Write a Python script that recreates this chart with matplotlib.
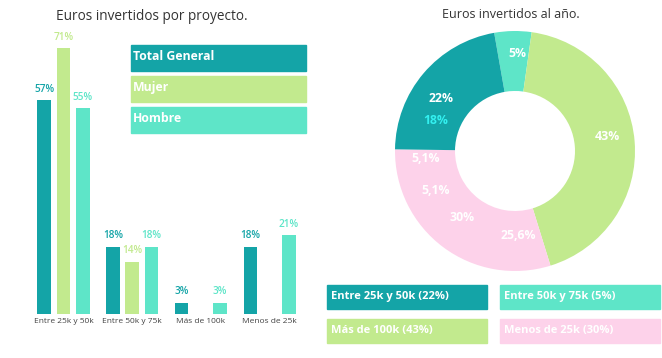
import numpy as np
import matplotlib
matplotlib.use('Agg')
import matplotlib.pyplot as plt
from matplotlib.patches import Rectangle

plt.rcParams['font.family'] = ['Open Sans', 'DejaVu Sans']

W, H = 662, 358

DARK = '#14a4a7'
GREEN = '#c2ea8e'
LIGHT = '#5ee5c8'
PINK = '#fdd2ea'
CYAN = '#33f0f0'
TXT = '#333333'

# bar chart data
categories = ['Entre 25k y 50k', 'Entre 50k y 75k', 'Más de 100k', 'Menos de 25k']
series_names = ['Total General', 'Mujer', 'Hombre']
total = [57, 18, 3, 18]
mujer = [71, 14, None, None]
hombre = [55, 18, 3, 21]

# donut data
donut_labels = ['Entre 50k y 75k', 'Más de 100k', 'Menos de 25k', 'Entre 25k y 50k']
donut_values = [5, 43, 30, 22]
donut_texts = ['5%', '43%', '25,6%', '30%', '5,1%', '5,1%', '22%', '18%']
legend_order = ['Entre 25k y 50k (22%)', 'Entre 50k y 75k (5%)',
                'Más de 100k (43%)', 'Menos de 25k (30%)']


def fx(px):
    return px / W


def fy(py):
    return 1 - py / H


fig = plt.figure(figsize=(W / 100, H / 100), dpi=100)

# ---------------------------------------------------------------- bars
unit = 68.7
ax = fig.add_axes([fx(63.5 - 0.5 * unit), fy(314), fx(4 * unit), 300 / H])
x = np.arange(len(categories))
bw = 0.196
off = 0.281
for vals, col, k in [(total, DARK, -1), (mujer, GREEN, 0), (hombre, LIGHT, 1)]:
    for i, v in enumerate(vals):
        if v is None:
            continue
        ax.bar(x[i] + k * off, v, width=bw, color=col)
        ax.text(x[i] + k * off, v + 1.4, f'{v}%', ha='center', va='bottom',
                color=col, fontsize=7.2, fontweight='semibold')
ax.set_xlim(-0.5, 3.5)
ax.set_ylim(0, 80)
ax.set_xticks(x)
ax.set_xticklabels(categories, fontsize=6, color='#444444')
ax.tick_params(axis='x', length=0, pad=3)
ax.set_yticks([])
for s in ax.spines.values():
    s.set_visible(False)

fig.text(fx(151.5), fy(17), 'Euros invertidos por proyecto.', ha='center',
         va='center', fontsize=9.8, color=TXT)

# bar legend boxes
for j, (name, col) in enumerate(zip(series_names, [DARK, GREEN, LIGHT])):
    top = 45 + j * 31
    fig.patches.append(Rectangle((fx(131), fy(top + 26)), fx(175), 26 / H,
                                 transform=fig.transFigure, color=col))
    fig.text(fx(133), fy(top + 11), name, ha='left', va='center',
             fontsize=8.8, fontweight='bold', color='white')

# ---------------------------------------------------------------- donut
R = 120
pax = fig.add_axes([fx(515 - R), fy(151 + R), fx(2 * R), 2 * R / H])
pax.pie(donut_values, colors=[LIGHT, GREEN, PINK, DARK], startangle=100,
        counterclock=False, radius=1, wedgeprops=dict(width=0.5, linewidth=0))
pax.set_xlim(-1, 1)
pax.set_ylim(-1, 1)
pax.set_aspect('equal')
pax.axis('off')

label_pos = [(2, -98), (92, -14), (3, 85), (-53, 67), (-89, 7), (-79, 40),
             (-74, -53), (-79, -30)]
label_cols = ['white'] * 7 + [CYAN]
for t, (dx, dy), c in zip(donut_texts, label_pos, label_cols):
    pax.text(dx / R, -dy / R, t, ha='center', va='center', color=c,
             fontsize=8.8, fontweight='bold')

fig.text(fx(511), fy(14), 'Euros invertidos al año.', ha='center',
         va='center', fontsize=9, color=TXT)

# donut legend boxes
box_cols = [DARK, LIGHT, GREEN, PINK]
for j, (name, col) in enumerate(zip(legend_order, box_cols)):
    left = 327 if j % 2 == 0 else 500
    top = 285 if j < 2 else 319
    fig.patches.append(Rectangle((fx(left), fy(top + 24)), fx(160), 24 / H,
                                 transform=fig.transFigure, color=col))
    fig.text(fx(left + 4), fy(top + 11), name, ha='left', va='center',
             fontsize=8, fontweight='bold', color='white')

fig.savefig('out.png', dpi=100)
